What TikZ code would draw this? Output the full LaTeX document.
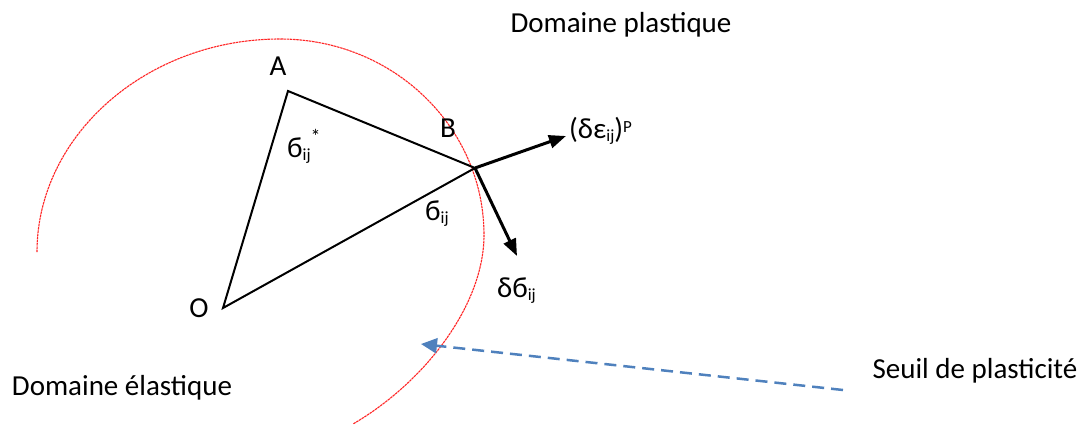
\documentclass[tikz,border=0pt]{standalone}
\usepackage{fontspec}
\setmainfont{Carlito}
\usetikzlibrary{arrows.meta}
\newcommand\lowidx[1]{\raisebox{-3bp}{\fontsize{17bp}{17bp}\selectfont #1}}
\newcommand\highidx[3]{\raisebox{#1}{\fontsize{#2}{#2}\selectfont #3}}
\definecolor{seuilblue}{HTML}{4F81BD}
\tikzset{
  lbl/.style={inner sep=0pt, font=\fontsize{29bp}{34bp}\selectfont},
  side/.style={line width=2bp, black},
  vec/.style={line width=3bp, black, -{Triangle[length=17bp,width=13bp]}},
  seuil/.style={red!85, line width=1.1bp, dash pattern=on 2.5bp off 0.7bp},
  pointer/.style={seuilblue, line width=2.5bp, dash pattern=on 12bp off 7bp,
    -{Triangle[length=16bp,width=15bp]}}
}
\begin{document}
\begin{tikzpicture}[x=1bp,y=-1bp]
\useasboundingbox (0,0) rectangle (1089,425);
% yield surface arc
\coordinate (s0) at (37,252);
\coordinate (s1) at (280,39);
\coordinate (s2) at (484,235);
\coordinate (s3) at (353,424);
\draw[seuil] (s0) .. controls (37,136) and (146,39) .. (s1)
  .. controls (393,39) and (484,127) .. (s2)
  .. controls (484,305) and (425,382) .. (s3);
% points
\coordinate (O) at (223,308);
\coordinate (A) at (288,91);
\coordinate (B) at (475,168);
\coordinate (eps) at (566,136);
\coordinate (dsig) at (517,256);
\coordinate (tip) at (421,344);
\coordinate (tail) at (843,390);
% triangle
\draw[side, line join=miter] (B) -- (A) -- (O) -- (B);
% vectors
\draw[vec] (B) -- (eps);
\draw[vec] (B) -- (dsig);
\draw[pointer] (tail) -- (tip);
% labels
\node[lbl, anchor=base] (lA) at (278,75) {A};
\node[lbl, anchor=base] (lB) at (448,137) {B};
\node[lbl, anchor=base] (lO) at (199,317) {O};
\node[lbl, anchor=base west] (lsigstar) at (287,157) {б\lowidx{ij}\highidx{14bp}{20bp}{*}};
\node[lbl, anchor=base west] (lsig) at (425,220) {б\lowidx{ij}};
\node[lbl, anchor=base west] (ldsig) at (497,297) {δб\lowidx{ij}};
\node[lbl, anchor=base west] (leps) at (569,138) {(δε\lowidx{ij})\highidx{6bp}{17bp}{P}};
\node[lbl, anchor=base] (plast) at (621,32) {Domaine plastique};
\node[lbl, anchor=base] (elast) at (122,395) {Domaine élastique};
\node[lbl, anchor=base] (seuiltxt) at (975,378) {Seuil de plasticité};
\end{tikzpicture}
\end{document}
